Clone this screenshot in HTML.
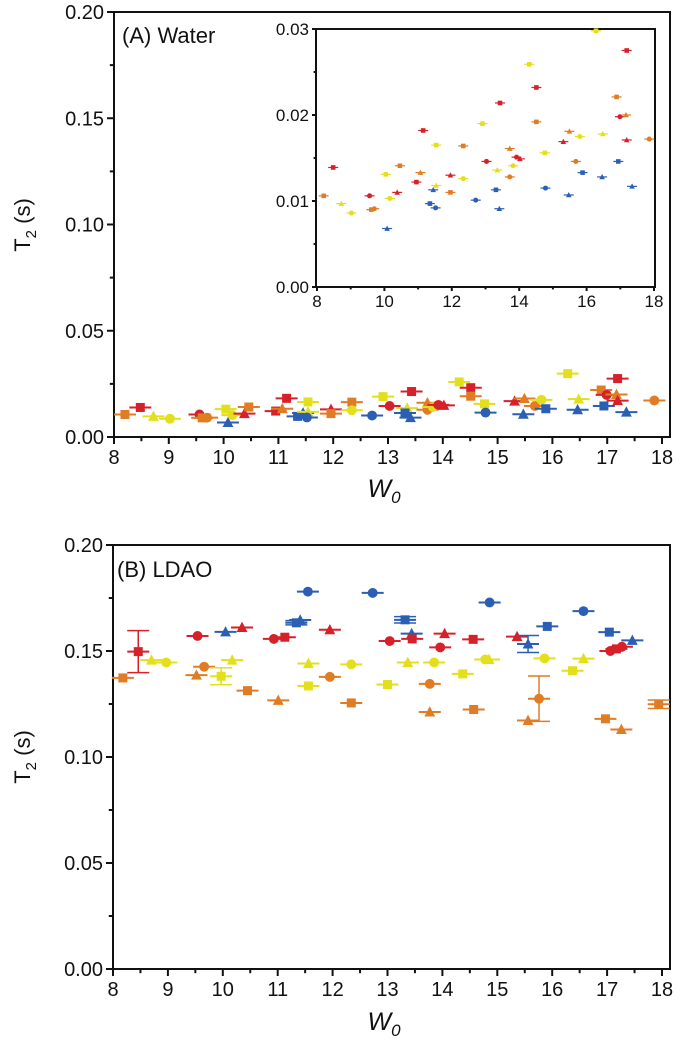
<!DOCTYPE html>
<html><head><meta charset="utf-8">
<style>
html,body{margin:0;padding:0;background:#fff;}
svg{display:block;font-family:"Liberation Sans",Arial,sans-serif;}
</style></head>
<body>
<svg id="chart" width="676" height="1050" viewBox="0 0 676 1050" xmlns="http://www.w3.org/2000/svg"></svg>
<script>
// ---- Water data (panel A and inset) ----
const waterX = [8.2,8.48,8.72,9.02,9.56,9.61,9.7,10.04,10.08,10.16,10.38,10.46,10.95,11.07,11.15,11.35,11.45,11.54,11.52,11.54,11.96,11.96,12.34,12.34,12.71,12.91,13.03,13.35,13.31,13.43,13.41,13.72,13.72,13.82,13.92,14.02,14.3,14.51,14.51,14.76,14.78,15.31,15.47,15.49,15.68,15.8,15.88,16.28,16.46,16.48,16.89,16.94,16.99,17.17,17.19,17.19,17.35,17.86];
const waterY = [0.0106,0.0139,0.0097,0.0086,0.0106,0.0090,0.0091,0.0131,0.0068,0.0103,0.0110,0.0141,0.0122,0.0133,0.0182,0.0097,0.0113,0.0118,0.0092,0.0165,0.0130,0.0110,0.0164,0.0126,0.0101,0.0190,0.0146,0.0136,0.0113,0.0214,0.0091,0.0128,0.0161,0.0141,0.0151,0.0149,0.0259,0.0232,0.0192,0.0156,0.0115,0.0169,0.0107,0.0181,0.0146,0.0175,0.0133,0.0298,0.0128,0.0178,0.0221,0.0146,0.0198,0.0200,0.0275,0.0171,0.0117,0.0172];
const waterColor = ["o","r","y","y","r","o","o","y","b","y","r","o","r","o","r","b","b","y","b","y","r","o","o","y","b","y","r","y","b","r","b","o","o","y","r","r","y","r","o","y","b","r","b","o","o","y","b","y","b","y","o","b","r","o","r","r","b","o"];
const waterShape = ["s","s","t","c","c","s","c","s","t","c","t","s","s","t","s","s","t","t","c","s","t","s","s","c","c","s","c","t","s","s","t","c","t","c","c","t","s","s","s","s","c","t","t","t","c","c","s","s","t","t","s","s","c","t","s","t","t","c"];

// ---- LDAO data (panel B) ----
const ldaoX = [8.18,8.46,8.7,8.97,9.54,9.66,9.52,10.05,9.97,10.35,10.17,10.45,10.93,11.13,11.01,11.34,11.41,11.55,11.56,11.56,11.95,11.95,12.34,12.34,12.73,13.04,13.0,13.32,13.44,13.45,13.37,13.77,13.77,13.85,13.96,14.04,14.37,14.57,14.56,14.78,14.85,14.86,15.36,15.56,15.56,15.76,15.86,15.91,16.37,16.57,16.57,16.97,17.04,17.06,17.17,17.27,17.46,17.26,17.94];
const ldaoY = [0.1373,0.1497,0.1457,0.1446,0.1571,0.1426,0.1386,0.159,0.1381,0.1611,0.1457,0.1313,0.1557,0.1565,0.1267,0.1633,0.1646,0.178,0.1441,0.1335,0.160,0.1378,0.1437,0.1255,0.1774,0.1547,0.1342,0.1647,0.1582,0.1557,0.1446,0.1345,0.1212,0.1446,0.1517,0.1582,0.1392,0.1224,0.1555,0.146,0.146,0.1729,0.1568,0.1533,0.1172,0.1275,0.1465,0.1616,0.1407,0.1464,0.1688,0.118,0.1589,0.150,0.151,0.152,0.155,0.113,0.1249];
const ldaoErr = [0,0.0099,0,0,0,0,0,0,0.004,0,0,0,0,0,0,0.001,0,0,0,0,0,0,0,0,0,0,0,0.0015,0,0,0,0,0,0,0,0,0,0,0,0,0,0,0,0.004,0,0.0107,0,0,0,0,0,0,0,0,0,0,0,0,0.002];
const ldaoColor = ["o","r","y","y","r","o","o","b","y","r","y","o","r","r","o","b","b","b","y","y","r","o","y","o","b","r","y","b","b","r","y","o","o","y","r","r","y","o","r","y","y","b","r","b","o","o","y","b","y","y","b","o","b","r","r","r","b","o","o"];
const ldaoShape = ["s","s","t","c","c","c","t","t","s","t","t","s","c","s","t","s","t","c","t","s","t","c","c","s","c","c","s","s","t","s","t","c","t","c","c","t","s","s","s","c","t","c","t","t","t","c","c","s","s","t","c","s","s","c","s","c","t","t","s"];

const xTicks = [8,9,10,11,12,13,14,15,16,17,18];
const yTicksMain = [0,0.05,0.10,0.15,0.20];
const xTicksInset = [8,10,12,14,16,18];
const yTicksInset = [0,0.01,0.02,0.03];

const COLORS = {r:"#d6212b", b:"#2b5fb4", y:"#e3df1c", o:"#e07c24"};
const NS = "http://www.w3.org/2000/svg";
const svg = document.getElementById("chart");

function mk(tag, attrs, parent){
  const e = document.createElementNS(NS, tag);
  for (const k in attrs) e.setAttribute(k, attrs[k]);
  (parent||svg).appendChild(e);
  return e;
}
function scale(d0,d1,p0,p1){ return v => p0 + (v-d0)/(d1-d0)*(p1-p0); }

function marker(g, shape, cx, cy, r, color){
  let m;
  if (shape === "s") m = mk("rect",{x:cx-r,y:cy-r,width:2*r,height:2*r,fill:color},g);
  else if (shape === "c") m = mk("circle",{cx:cx,cy:cy,r:r*1.1,fill:color},g);
  else m = mk("polygon",{points:`${cx},${cy-r*1.3} ${cx-r*1.2},${cy+r} ${cx+r*1.2},${cy+r}`,fill:color},g);
  
  
}

function drawAxes(g, L, R, T, B, sx, sy, xt, yt, xMinor, yMinor, fs, yfmt, tickLen, labelOff){
  const frame = mk("rect",{x:L,y:T,width:R-L,height:B-T,fill:"none",stroke:"#111","stroke-width":2},g);
  
  
  xt.forEach(v=>{
    const x = sx(v);
    mk("line",{x1:x,y1:B,x2:x,y2:B+tickLen,stroke:"#111","stroke-width":2},g);
    const t = mk("text",{x:x,y:B+labelOff,"font-size":fs,"text-anchor":"middle",fill:"#111"},g);
    t.textContent = v;
    
    
  });
  xMinor.forEach(v=>{ const x=sx(v); mk("line",{x1:x,y1:B,x2:x,y2:B+tickLen*0.6,stroke:"#111","stroke-width":2},g); });
  yt.forEach(v=>{
    const y = sy(v);
    mk("line",{x1:L-tickLen,y1:y,x2:L,y2:y,stroke:"#111","stroke-width":2},g);
    const t = mk("text",{x:L-tickLen-3,y:y+fs*0.36,"font-size":fs,"text-anchor":"end",fill:"#111"},g);
    t.textContent = v.toFixed(2);
    
    
  });
  yMinor.forEach(v=>{ const y=sy(v); mk("line",{x1:L-tickLen*0.6,y1:y,x2:L,y2:y,stroke:"#111","stroke-width":2},g); });
}

function drawPoints(g, xs, ys, cols, shapes, errs, sx, sy, r, barHalf, sw){
  xs.forEach((xv,i)=>{
    const cx = sx(xv), cy = sy(ys[i]), c = COLORS[cols[i]];
    mk("line",{x1:cx-barHalf,y1:cy,x2:cx+barHalf,y2:cy,stroke:c,"stroke-width":sw},g);
    if (errs && errs[i] > 0){
      const y1 = sy(ys[i]+errs[i]), y2 = sy(ys[i]-errs[i]);
      mk("line",{x1:cx,y1:y1,x2:cx,y2:y2,stroke:c,"stroke-width":1.5},g);
      mk("line",{x1:cx-barHalf,y1:y1,x2:cx+barHalf,y2:y1,stroke:c,"stroke-width":1.5},g);
      mk("line",{x1:cx-barHalf,y1:y2,x2:cx+barHalf,y2:y2,stroke:c,"stroke-width":1.5},g);
    }
    marker(g, shapes[i], cx, cy, r, c);
  });
}

const xMinor = [8.5,9.5,10.5,11.5,12.5,13.5,14.5,15.5,16.5,17.5];
const yMinorMain = [0.025,0.075,0.125,0.175];

// ---- Panel A ----
const gA = mk("g",{});


const sxA = scale(8,18,114,662), syA = scale(0,0.2,437,12);
drawAxes(gA,114,670,12,437,sxA,syA,xTicks,yTicksMain,xMinor,yMinorMain,20,null,7,27);
drawPoints(gA, waterX, waterY, waterColor, waterShape, null, sxA, syA, 4.5, 11, 2);
let t = mk("text",{x:122,y:43,"font-size":22,fill:"#111"},gA); t.textContent="(A) Water";
 
t = mk("text",{x:0,y:0,"font-size":22,fill:"#111","text-anchor":"middle",transform:"translate(30,225) rotate(-90)"},gA);
t.innerHTML='T<tspan font-size="15" dy="6">2</tspan><tspan dy="-6"> (s)</tspan>';
 
t = mk("text",{x:384,y:497,"font-size":25,"font-style":"italic",fill:"#111","text-anchor":"middle"},gA);
t.innerHTML='W<tspan font-size="17" dy="6">0</tspan>';
 

// ---- Inset ----
const gI = mk("g",{});


const sxI = scale(8,18,317,654), syI = scale(0,0.03,287,29);
mk("rect",{x:316,y:29,width:339,height:258,fill:"#fff"},gI);
drawAxes(gI,316,655,29,287,sxI,syI,xTicksInset,yTicksInset,[9,11,13,15,17],[0.005,0.015,0.025],17,null,4,20);
drawPoints(gI, waterX, waterY, waterColor, waterShape, null, sxI, syI, 2.3, 5, 1.2);

// ---- Panel B ----
const gB = mk("g",{});


const sxB = scale(8,18,113,662), syB = scale(0,0.2,969,545);
drawAxes(gB,113,670,545,969,sxB,syB,xTicks,yTicksMain,xMinor,yMinorMain,20,null,7,27);
drawPoints(gB, ldaoX, ldaoY, ldaoColor, ldaoShape, ldaoErr, sxB, syB, 4.5, 11, 2);
t = mk("text",{x:117,y:577,"font-size":22,fill:"#111"},gB); t.textContent="(B) LDAO";
 
t = mk("text",{x:0,y:0,"font-size":22,fill:"#111","text-anchor":"middle",transform:"translate(30,757) rotate(-90)"},gB);
t.innerHTML='T<tspan font-size="15" dy="6">2</tspan><tspan dy="-6"> (s)</tspan>';
 
t = mk("text",{x:384,y:1030,"font-size":25,"font-style":"italic",fill:"#111","text-anchor":"middle"},gB);
t.innerHTML='W<tspan font-size="17" dy="6">0</tspan>';
 
</script>
</body></html>
